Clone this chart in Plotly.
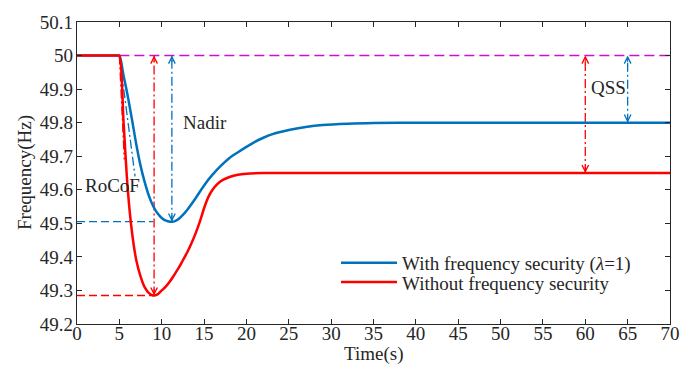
import plotly.graph_objects as go

# ---------------- data ----------------
time_with = [0, 4.8, 5, 5.5, 6, 6.5, 7, 7.5, 8, 8.5, 9, 9.5, 10, 10.5, 11, 11.2, 11.5, 12,
             12.5, 13, 14, 15, 16, 17, 18, 19, 20, 21, 22, 23, 25, 27, 29, 32, 35, 40, 50, 60, 70]
freq_with = [50, 50, 50, 49.94, 49.878, 49.808, 49.735, 49.672, 49.622, 49.581, 49.551, 49.53, 49.516,
             49.508, 49.505, 49.505, 49.506, 49.513, 49.525, 49.54, 49.575, 49.613, 49.645, 49.672,
             49.695, 49.712, 49.728, 49.743, 49.755, 49.765, 49.778, 49.787, 49.793, 49.797, 49.799,
             49.8, 49.8, 49.8, 49.8]

time_without = [0, 4.8, 5, 5.5, 6, 6.5, 7, 7.5, 8, 8.5, 9, 9.5, 10, 10.5, 11, 11.5, 12, 12.5,
                13, 13.5, 14, 14.5, 15, 15.5, 16, 16.5, 17, 18, 19, 20, 22, 25, 30, 40, 50, 60, 70]
freq_without = [50, 50, 50, 49.8, 49.598, 49.472, 49.39, 49.342, 49.309, 49.292, 49.285, 49.288,
                49.3, 49.312, 49.328, 49.347, 49.367, 49.39, 49.413, 49.44, 49.47, 49.505, 49.545,
                49.578, 49.6, 49.615, 49.626, 49.638, 49.645, 49.648, 49.65, 49.65, 49.65, 49.65,
                49.65, 49.65, 49.65]

series_names = ["With frequency security (<i>λ</i>=1)", "Without frequency security"]

nominal_freq = 50.0
disturbance_time = 5.0
nadir_time_with, nadir_with = 11.2, 49.505
nadir_time_without, nadir_without = 9.1, 49.285
hline_end_with = 9.0
qss_time_with, qss_with = 65.0, 49.8
qss_time_without, qss_without = 60.0, 49.65
rocof_end_with = (6.85, 49.64)
rocof_end_without = (5.58, 49.69)

x_ticks = list(range(0, 71, 5))
y_ticks = [49.2, 49.3, 49.4, 49.5, 49.6, 49.7, 49.8, 49.9, 50.0, 50.1]

labels = {"Nadir": (15.1, 49.80), "RoCoF": (4.17, 49.614), "QSS": (62.7, 49.905)}

# ---------------- styling ----------------
BLUE = "#0072BD"
RED = "#FF0000"
MAGENTA = "#CC11CC"
TXT = "#262626"
FONT = "Liberation Serif"
FS = 19
L, R, T, B = 77, 24, 13, 41
PW, PH = 694 - L - R, 365 - T - B

fig = go.Figure()

# reference lines (drawn first, below curves)
fig.add_trace(go.Scatter(x=[disturbance_time, 70], y=[nominal_freq, nominal_freq], mode="lines",
                         line=dict(color=MAGENTA, width=1.5, dash="10px,5px"),
                         showlegend=False, hoverinfo="skip"))
fig.add_trace(go.Scatter(x=[0, hline_end_with], y=[nadir_with, nadir_with], mode="lines",
                         line=dict(color=BLUE, width=1.4, dash="8px,4px"),
                         showlegend=False, hoverinfo="skip"))
fig.add_trace(go.Scatter(x=[0, nadir_time_without], y=[nadir_without, nadir_without], mode="lines",
                         line=dict(color=RED, width=1.4, dash="8px,4px"),
                         showlegend=False, hoverinfo="skip"))

dashdot = "9px,3px,2px,3px"
for tx, y0, col in [(nadir_time_with, nadir_with, BLUE), (nadir_time_without, nadir_without, RED),
                    (qss_time_with, qss_with, BLUE), (qss_time_without, qss_without, RED)]:
    fig.add_trace(go.Scatter(x=[tx, tx], y=[y0, nominal_freq], mode="lines",
                             line=dict(color=col, width=1.3, dash=dashdot),
                             showlegend=False, hoverinfo="skip"))

# RoCoF tangents
fig.add_trace(go.Scatter(x=[disturbance_time, rocof_end_with[0]], y=[nominal_freq, rocof_end_with[1]],
                         mode="lines", line=dict(color=BLUE, width=1.3, dash=dashdot),
                         showlegend=False, hoverinfo="skip"))
fig.add_trace(go.Scatter(x=[disturbance_time, rocof_end_without[0]], y=[nominal_freq, rocof_end_without[1]],
                         mode="lines", line=dict(color=RED, width=1.3, dash=dashdot),
                         showlegend=False, hoverinfo="skip"))

# main curves
fig.add_trace(go.Scatter(x=time_with, y=freq_with, mode="lines", name=series_names[0],
                         line=dict(color=BLUE, width=2.5, shape="spline", smoothing=0.8),
                         legend="legend"))
fig.add_trace(go.Scatter(x=time_without, y=freq_without, mode="lines", name=series_names[1],
                         line=dict(color=RED, width=2.5, shape="spline", smoothing=0.8),
                         legend="legend2"))

# arrowheads
annos = []
def head(x, y, col, up):
    annos.append(dict(x=x, y=y, xref="x", yref="y", text="", showarrow=True,
                      ax=0, ay=(8 if up else -8), arrowhead=5, arrowsize=1.3,
                      arrowwidth=1.0, arrowcolor=col))

for tx, y0, col in [(nadir_time_with, nadir_with, BLUE), (nadir_time_without, nadir_without, RED),
                    (qss_time_with, qss_with, BLUE), (qss_time_without, qss_without, RED)]:
    head(tx, nominal_freq, col, True)
    head(tx, y0, col, False)

for txt, (lx, ly) in labels.items():
    annos.append(dict(x=lx, y=ly, xref="x", yref="y", text=txt, showarrow=False,
                      font=dict(family=FONT, size=FS, color=TXT), bgcolor="rgba(0,0,0,0)"))

# axis titles
annos.append(dict(x=0.5, y=(T + PH - 355) / PH, xref="paper", yref="paper", text="Time(s)",
                  showarrow=False, xanchor="center", yanchor="middle",
                  font=dict(family=FONT, size=FS, color=TXT)))
annos.append(dict(x=(25 - L) / PW, y=0.5, xref="paper", yref="paper", text="Frequency(Hz)",
                  showarrow=False, textangle=-90, xanchor="center", yanchor="middle",
                  font=dict(family=FONT, size=FS, color=TXT)))

axis_common = dict(showline=True, linecolor=TXT, linewidth=1.2, mirror="ticks", ticks="inside",
                   ticklen=5, tickwidth=1, tickcolor=TXT, showgrid=False, zeroline=False,
                   tickfont=dict(family=FONT, size=FS, color=TXT))

legend_common = dict(font=dict(family=FONT, size=FS, color=TXT), bgcolor="rgba(0,0,0,0)",
                     borderwidth=0, xanchor="left", yanchor="middle", itemwidth=56)

fig.update_layout(
    width=694, height=365,
    margin=dict(l=L, r=R, t=T, b=B),
    paper_bgcolor="white", plot_bgcolor="white",
    xaxis=dict(range=[0, 70], tickvals=x_ticks, ticklabelstandoff=-8, **axis_common),
    yaxis=dict(range=[49.2, 50.1], tickvals=y_ticks, ticktext=[f"{v:g}" for v in y_ticks],
               ticklabelstandoff=-1, **axis_common),
    legend=dict(x=(336 - L) / PW, y=(T + PH - 261) / PH, **legend_common),
    legend2=dict(x=(336 - L) / PW, y=(T + PH - 281) / PH, **legend_common),
    annotations=annos,
    showlegend=True,
)

fig.write_html("out.html")
